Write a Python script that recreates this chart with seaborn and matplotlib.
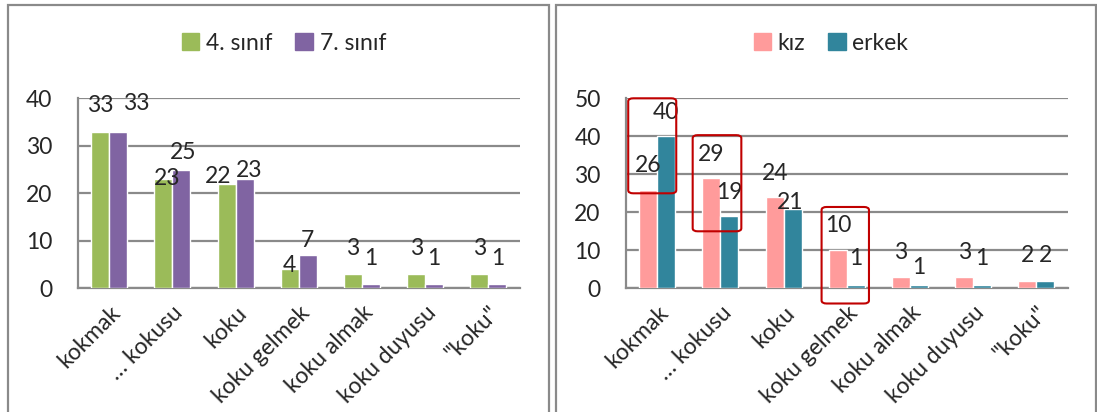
import matplotlib
matplotlib.use("Agg")
import pandas as pd
import matplotlib.pyplot as plt
import seaborn as sns
from matplotlib.patches import Rectangle, FancyBboxPatch, Patch

# veriler
kategoriler = ["kokmak", "… kokusu", "koku", "koku gelmek", "koku almak", "koku duyusu", '"koku"']
sinif4 = [33, 23, 22, 4, 3, 3, 3]
sinif7 = [33, 25, 23, 7, 1, 1, 1]
kiz = [26, 29, 24, 10, 3, 3, 2]
erkek = [40, 19, 21, 1, 1, 1, 2]

# etiket kaydirmalari (piksel): yukari, saga
off_sinif4 = [(26, 0), (1, 4), (7, -8), (4, 0), (26, 0), (26, 0), (26, 0)]
off_sinif7 = [(28, 18), (17, 2), (9, 5), (15, 0), (25, 0), (25, 0), (25, 0)]
off_kiz = [(24, 0), (24, 0), (24, 0), (25, 0), (24, 0), (24, 0), (25, 0)]
off_erkek = [(24, 0), (24, 0), (6, -3), (26, 0), (17, 0), (26, 0), (25, 0)]

# kirmizi cerceveler (veri koordinatlari): x0, x1, y0, y1
kutular = [(-0.46, 0.30, 25, 50), (0.56, 1.33, 15, 40.3), (2.60, 3.35, -4, 21.4)]

sns.set_style("white")
plt.rcParams["font.family"] = ["Lato", "DejaVu Sans"]
FS = 16.5

fig = plt.figure(figsize=(10.97, 4.12), dpi=100)
W, H = 1097, 412

# panel cerceveleri
for x0, x1 in [(8, 549), (556, 1096)]:
    fig.patches.append(Rectangle((x0 / W, -0.05), (x1 - x0) / W, 1.05 - 5 / H,
                                 transform=fig.transFigure, fill=False,
                                 edgecolor="#8a8a8a", lw=1.6, zorder=0))


def ciz(ax, vals1, vals2, ad1, ad2, renk1, renk2, off1, off2, ymax, leg_x):
    df = pd.DataFrame({
        "kat": kategoriler * 2,
        "deger": vals1 + vals2,
        "grup": [ad1] * len(kategoriler) + [ad2] * len(kategoriler),
    })
    sns.barplot(data=df, x="kat", y="deger", hue="grup", palette=[renk1, renk2],
                width=0.57, gap=0, ax=ax, legend=False, saturation=1,
                errorbar=None, zorder=3)
    ax.set_ylim(0, ymax)
    ax.set_xlim(-0.5, len(kategoriler) - 0.5)
    ax.set_yticks(range(0, ymax + 1, 10))
    ax.yaxis.grid(True, color="#8a8a8a", lw=1.6, zorder=0)
    ax.set_axisbelow(True)
    for s in ["top", "right"]:
        ax.spines[s].set_visible(False)
    for s in ["left", "bottom"]:
        ax.spines[s].set_color("#8a8a8a")
        ax.spines[s].set_linewidth(1.6)
    ax.set_xlabel("")
    ax.set_ylabel("")
    ax.tick_params(axis="y", length=0, pad=18, labelsize=FS)
    ax.tick_params(axis="x", length=0, pad=10)
    ax.set_xticks(range(len(kategoriler)))
    ax.set_xticklabels(kategoriler, rotation=45, ha="right", va="top",
                       rotation_mode="anchor", fontsize=FS)
    for cont, offs in zip(ax.containers, [off1, off2]):
        for bar, (dy, dx) in zip(cont, offs):
            ax.annotate(f"{bar.get_height():.0f}",
                        (bar.get_x() + bar.get_width() / 2, bar.get_height()),
                        xytext=(dx, dy), textcoords="offset pixels",
                        ha="center", va="center", fontsize=FS, zorder=5)
    fig.legend(handles=[Patch(color=renk1, label=ad1), Patch(color=renk2, label=ad2)],
               loc="center", bbox_to_anchor=(leg_x / W, 1 - 43 / H), ncol=2,
               frameon=False, fontsize=FS, handlelength=0.75, handleheight=0.75,
               handletextpad=0.3, columnspacing=1.0)


ax1 = fig.add_axes([77.5 / W, 1 - 288.3 / H, 442.5 / W, 190 / H])
ciz(ax1, sinif4, sinif7, "4. sınıf", "7. sınıf", "#9BBB59", "#8064A2",
    off_sinif4, off_sinif7, 40, 284)

ax2 = fig.add_axes([625.7 / W, 1 - 288.3 / H, 442.3 / W, 190 / H])
ciz(ax2, kiz, erkek, "kız", "erkek", "#FF9B9B", "#31859C",
    off_kiz, off_erkek, 50, 831)

for x0, x1, y0, y1 in kutular:
    ax2.add_patch(FancyBboxPatch((x0, y0), x1 - x0, y1 - y0,
                                 boxstyle="round,pad=0,rounding_size=0.08",
                                 mutation_aspect=10, fill=False,
                                 edgecolor="#C00000", lw=1.5, zorder=6,
                                 clip_on=False))

fig.savefig("out.png", dpi=100)
